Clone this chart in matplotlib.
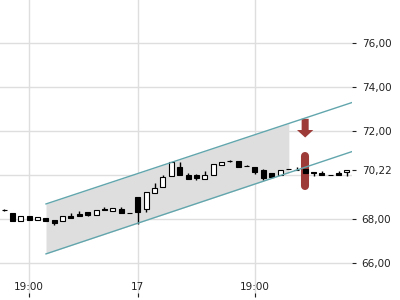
import numpy as np
import matplotlib.pyplot as plt
from matplotlib.patches import FancyArrow

# candle data (one entry per bar, left to right)
opens = [68.41, 68.27, 67.91, 68.14, 67.95, 68.05, 67.95, 67.91, 68.14, 68.23,
         68.32, 68.18, 68.43, 68.36, 68.45, 68.28, 69.00, 68.45, 69.18, 69.45,
         69.95, 70.36, 70.00, 70.00, 69.82, 70.00, 70.45, 70.64, 70.64, 70.41,
         70.36, 70.23, 70.09, 70.00, 70.26, 70.23, 70.27, 70.14, 70.09, 70.00,
         70.09, 70.12]
closes = [68.40, 67.91, 68.14, 67.95, 68.09, 67.91, 67.82, 68.14, 68.05, 68.14,
          68.16, 68.41, 68.42, 68.50, 68.27, 68.27, 68.32, 69.23, 69.41, 69.91,
          70.59, 70.00, 69.82, 69.86, 70.00, 70.50, 70.59, 70.63, 70.36, 70.40,
          70.14, 69.86, 69.91, 70.23, 70.25, 70.22, 70.09, 70.09, 70.00, 69.99,
          70.00, 70.22]
highs = [68.43, 68.27, 68.14, 68.14, 68.09, 68.05, 67.95, 68.14, 68.27, 68.36,
         68.32, 68.41, 68.55, 68.50, 68.55, 68.28, 69.00, 69.23, 69.64, 70.00,
         70.59, 70.59, 70.09, 70.05, 70.18, 70.50, 70.59, 70.68, 70.64, 70.47,
         70.36, 70.27, 70.09, 70.23, 70.26, 70.36, 70.27, 70.14, 70.18, 70.00,
         70.18, 70.22]
lows = [68.38, 67.91, 67.91, 67.95, 67.95, 67.91, 67.73, 67.91, 68.05, 68.14,
        68.11, 68.18, 68.42, 68.36, 68.27, 68.27, 67.77, 68.32, 69.18, 69.45,
        69.95, 70.00, 69.82, 69.77, 69.82, 70.00, 70.45, 70.59, 70.36, 70.40,
        70.06, 69.77, 69.91, 70.00, 70.25, 70.22, 70.09, 69.95, 70.00, 69.99,
        70.00, 69.95]

x_tick_pos = [3, 16, 30]
x_tick_labels = ["19:00", "17", "19:00"]
grid_levels = [66, 68, 70, 72, 74, 76]
y_tick_vals = [66, 68, 70.22, 72, 74, 76]

# trend channel
channel_x = [5.02, 41.6]
channel_upper = [68.68, 73.29]
channel_lower = [66.41, 71.06]
shade_end = 34.05

# signal markers
signal_x = 36
arrow_top, arrow_tip = 72.55, 71.70
bar_top, bar_bottom = 70.86, 69.50

red = "#9c3b38"
teal = "#62a6ad"

fig = plt.figure(figsize=(4, 3), dpi=100)
ax = fig.add_axes([0, 0.01, 0.88, 0.99])
ax.set_xlim(-0.48, 41.6)
ax.set_ylim(64.45, 77.95)

for g in grid_levels:
    ax.axhline(g, color="#dedede", lw=1, zorder=0)
for t in x_tick_pos:
    ax.axvline(t, color="#dedede", lw=1, zorder=0)

# shaded channel part
xs = np.linspace(channel_x[0], shade_end, 50)
ax.fill_between(xs, np.interp(xs, channel_x, channel_lower),
                np.interp(xs, channel_x, channel_upper),
                color="#dedede", lw=0, zorder=1)

# red signals
ax.plot([signal_x, signal_x], [bar_top, bar_bottom], color=red, lw=5.8,
        solid_capstyle="round", zorder=2)
ax.add_patch(FancyArrow(signal_x, arrow_top, 0, arrow_tip - arrow_top,
                        width=0.84, head_width=1.95, head_length=0.34,
                        length_includes_head=True, color=red, lw=0, zorder=2))

# candles
idx = np.arange(len(opens))
for i in idx:
    o, c = opens[i], closes[i]
    ax.vlines(i, lows[i], highs[i], color="black", lw=1, zorder=3)
    face = "white" if c > o else "black"
    ax.bar(i, max(abs(c - o), 0.005), bottom=min(o, c), width=0.6,
           facecolor=face, edgecolor="black", lw=0.8, zorder=4)

ax.plot(channel_x, channel_upper, color=teal, lw=1, zorder=5)
ax.plot(channel_x, channel_lower, color=teal, lw=1, zorder=5)

for s in ax.spines.values():
    s.set_visible(False)

ax.yaxis.tick_right()
ax.set_yticks(y_tick_vals)
ax.set_yticklabels([f"{v:.2f}".replace(".", ",") for v in y_tick_vals])
ax.tick_params(axis="y", direction="out", length=3, width=0.8, pad=4,
               labelsize=7.5, colors="#222222")

ax.set_xticks(x_tick_pos)
ax.set_xticklabels(x_tick_labels)
ax.tick_params(axis="x", direction="in", length=3, width=0.8, pad=-11,
               labelsize=7.5, colors="#222222")

plt.savefig("out.png", dpi=100)
plt.close()
